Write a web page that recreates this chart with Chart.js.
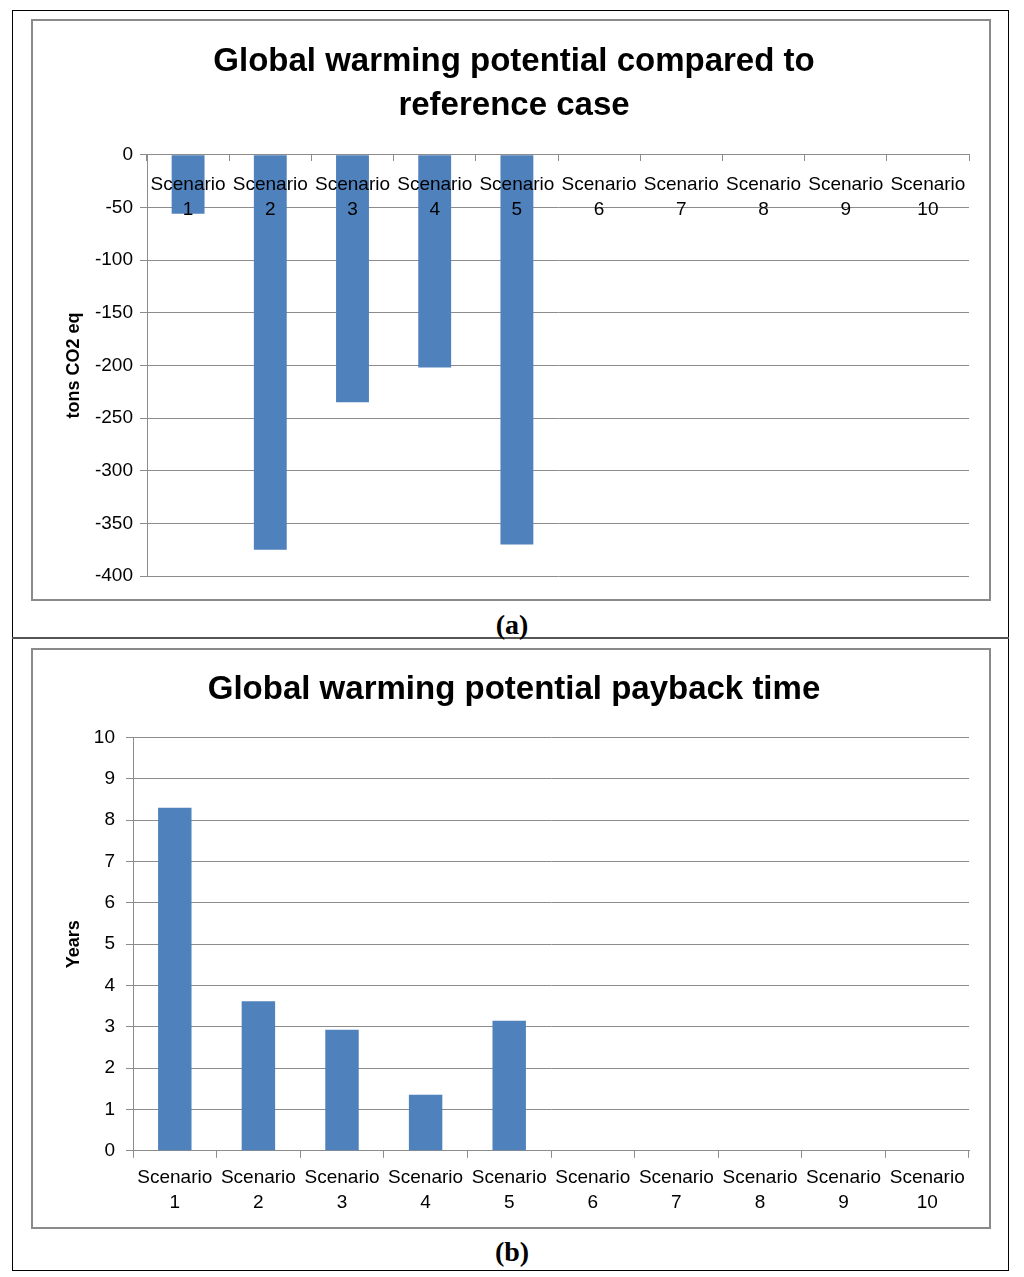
<!DOCTYPE html>
<html>
<head>
<meta charset="utf-8">
<script src="https://cdn.jsdelivr.net/npm/chart.js@4.4.1/dist/chart.umd.min.js"></script>
<style>
  body { margin: 0; background: #fff; }
  #page { position: relative; width: 1024px; height: 1277px; }
  .outer { position: absolute; left: 12px; top: 10px; width: 997px; height: 1261px; border: 1px solid #000; box-sizing: border-box; }
  .divider { position: absolute; left: 12px; top: 637px; width: 997px; height: 2px; background: #555; }
  .frame { position: absolute; left: 31px; width: 960px; border: 2px solid #8a8a8a; box-sizing: border-box; }
  .frame canvas { display: block; }
  .cap { position: absolute; left: 0; width: 1024px; text-align: center; font: bold 28px "Liberation Serif", serif; line-height: 34px; }
</style>
</head>
<body>
<div id="page">
  <div class="outer"></div>
  <div class="divider"></div>
  <div class="frame" style="top:19px;height:582px;"><canvas id="chartA" width="956" height="578"></canvas></div>
  <div class="cap" style="top:608px;">(a)</div>
  <div class="frame" style="top:648px;height:581px;"><canvas id="chartB" width="956" height="577"></canvas></div>
  <div class="cap" style="top:1235px;">(b)</div>
</div>
<script>
const scenarios = ['1', '2', '3', '4', '5', '6', '7', '8', '9', '10'];
const gwpVsReference = [-56, -375, -235, -202, -370, 0, 0, 0, 0, 0];
const gwpPayback = [8.3, 3.62, 2.93, 1.36, 3.15, 0, 0, 0, 0, 0];

const labels = scenarios.map((s) => ['Scenario', s]);
const font = 'Liberation Sans';
const gridGrey = '#8c8c8c';
const barBlue = '#4F81BD';

function dataset(values) {
  return [{
    data: values,
    backgroundColor: barBlue,
    borderWidth: 0,
    barPercentage: 0.4,
    categoryPercentage: 1.0,
  }];
}

function titleOpts(text, lineHeight, bottom) {
  return {
    display: true,
    text: text,
    color: '#000',
    font: { family: font, size: 33, weight: 'bold', lineHeight: lineHeight },
    padding: { top: 0, bottom: bottom },
  };
}

function yAxis(min, max, step, title, width, pad) {
  return {
    min: min,
    max: max,
    ticks: { stepSize: step, color: '#000', font: { family: font, size: 19 }, padding: pad },
    grid: { color: gridGrey, tickLength: 7 },
    border: { color: gridGrey },
    title: { display: true, text: title, color: '#000', font: { family: font, size: 18, weight: 'bold' } },
    afterFit: (scale) => { scale.width = width; },
  };
}

// (a) bars hang from zero, category labels sit just under the zero line, drawn over the bars
new Chart(document.getElementById('chartA'), {
  type: 'bar',
  data: { labels: labels, datasets: dataset(gwpVsReference) },
  options: {
    responsive: false,
    animation: false,
    layout: { padding: { left: 26, right: 20, top: 19, bottom: 23 } },
    plugins: {
      legend: { display: false },
      tooltip: { enabled: false },
      title: titleOpts(['Global warming potential compared to', 'reference case'], 1.33, 27),
    },
    scales: {
      x: {
        position: { y: 0 },
        ticks: { z: 1, color: '#000', font: { family: font, size: 19, lineHeight: 1.32 }, maxRotation: 0, autoSkip: false, padding: 11 },
        grid: { drawOnChartArea: false, color: gridGrey, tickLength: 6 },
        border: { color: gridGrey },
      },
      y: yAxis(-400, 0, 50, 'tons CO2 eq', 88, 7),
    },
  },
});

// (b) payback time
new Chart(document.getElementById('chartB'), {
  type: 'bar',
  data: { labels: labels, datasets: dataset(gwpPayback) },
  options: {
    responsive: false,
    animation: false,
    layout: { padding: { left: 26, right: 20, top: 20, bottom: 5 } },
    plugins: {
      legend: { display: false },
      tooltip: { enabled: false },
      title: titleOpts('Global warming potential payback time', 1.2, 28),
    },
    scales: {
      x: {
        ticks: { color: '#000', font: { family: font, size: 19, lineHeight: 1.32 }, maxRotation: 0, autoSkip: false, padding: 7 },
        grid: { drawOnChartArea: false, color: gridGrey, tickLength: 7 },
        border: { color: gridGrey },
      },
      y: yAxis(0, 10, 1, 'Years', 74, 11),
    },
  },
});
</script>
</body>
</html>
